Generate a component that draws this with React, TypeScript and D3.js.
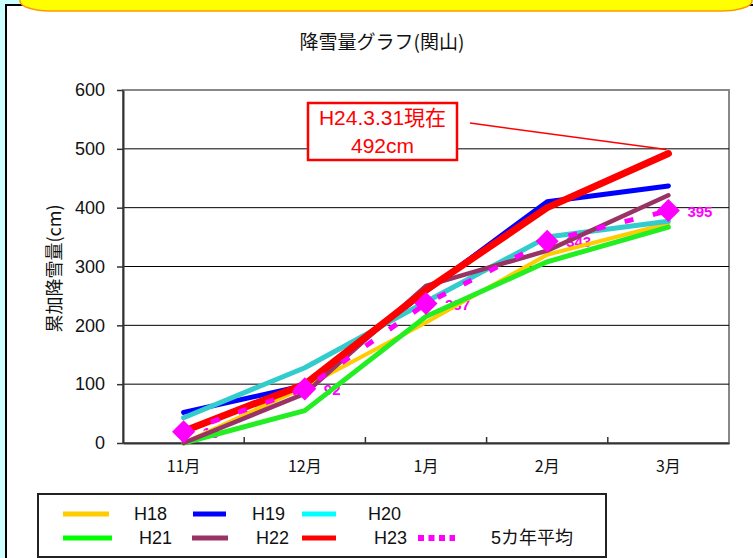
import React, { useEffect, useRef } from 'react'
import * as d3 from 'd3'

// 降雪量グラフ(関山) - cumulative snowfall by month
const months = ['11月', '12月', '1月', '2月', '3月']
const yTicks = [0, 100, 200, 300, 400, 500, 600]

const h18 = [0, 95, 205, 320, 373]
const h19 = [52, 98, 258, 410, 437]
const h20 = [43, 128, 240, 350, 377]
const h21 = [0, 55, 215, 308, 367]
const h22 = [0, 84, 267, 327, 421]
const h23 = [20, 100, 260, 400, 492]
const avg5 = [19, 92, 237, 343, 395]

const seriesNames = ['H18', 'H19', 'H20', 'H21', 'H22', 'H23', '5カ年平均']
const seriesValues = [h18, h19, h20, h21, h22, h23, avg5]

const latest = 492
const noteLines = ['H24.3.31現在', latest + 'cm']

// styles (colour, line width, legend colour)
const styles = [
  { c: '#ffcc00', w: 4, lc: '#ffcc00' },
  { c: '#0000ff', w: 5, lc: '#0000ff' },
  { c: '#33cccc', w: 5, lc: '#00ffff' },
  { c: '#22ee22', w: 5, lc: '#00ff00' },
  { c: '#993366', w: 4.5, lc: '#993366' },
  { c: '#ff0000', w: 7, lc: '#ff0000' },
  { c: '#ff00ff', w: 5, lc: '#ff00ff' }
]

// legend layout: swatch start, swatch end, text x, row center y
const legendPos = [
  [63, 109, 134, 514],
  [193, 226, 252, 514],
  [302, 336, 368, 514],
  [63, 112, 139, 538],
  [192, 228, 256, 538],
  [302, 336, 374, 538],
  [418, 455, 491, 538]
]

const latin = '"Liberation Sans", Arial, "Noto Sans CJK JP", sans-serif'
const jp = '"Noto Sans CJK JP", "Liberation Sans", sans-serif'

export default function App() {
  const ref = useRef<SVGSVGElement>(null)

  useEffect(() => {
    const svg = d3.select(ref.current)
    svg.selectAll('*').remove()

    const plot = { l: 123, r: 729, t: 90, b: 443 }

    const x = d3.scaleBand().domain(months).range([plot.l, plot.r])
    const cx = (m: string) => (x(m) as number) + x.bandwidth() / 2
    const y = d3.scaleLinear().domain([0, 600]).range([plot.b, plot.t])

    // page background + frame + banner
    svg.append('rect').attr('width', 753).attr('height', 558).attr('fill', '#ccffff')
    svg.append('rect')
      .attr('x', 6).attr('y', 5).attr('width', 760).attr('height', 600)
      .attr('fill', '#fff').attr('stroke', '#000').attr('stroke-width', 2)
    svg.append('rect')
      .attr('x', 20).attr('y', -40).attr('width', 732).attr('height', 51)
      .attr('rx', 30).attr('ry', 10)
      .attr('fill', '#ffff00').attr('stroke', '#ff9900').attr('stroke-width', 1.5)

    // title
    svg.append('text')
      .attr('x', 382).attr('y', 49)
      .attr('text-anchor', 'middle')
      .attr('font-family', jp).attr('font-size', 19)
      .attr('fill', '#111')
      .text('降雪量グラフ(関山)')

    // y title
    svg.append('text')
      .attr('transform', 'translate(61,' + ((plot.t + plot.b) / 2 + 2) + ') rotate(-90)')
      .attr('text-anchor', 'middle')
      .attr('font-family', jp).attr('font-size', 18)
      .attr('fill', '#111')
      .text('累加降雪量(cm)')

    // plot area border
    svg.append('rect')
      .attr('x', plot.l).attr('y', plot.t)
      .attr('width', plot.r - plot.l).attr('height', plot.b - plot.t)
      .attr('fill', '#fff').attr('stroke', '#888').attr('stroke-width', 2)

    // gridlines
    svg.append('g')
      .selectAll('line')
      .data(yTicks.filter(d => d > 0 && d < 600))
      .enter()
      .append('line')
      .attr('x1', plot.l).attr('x2', plot.r)
      .attr('y1', d => y(d)).attr('y2', d => y(d))
      .attr('stroke', '#000').attr('stroke-width', 1)

    // y axis
    const gy = svg.append('g')
      .attr('transform', 'translate(' + plot.l + ',0)')
      .call(d3.axisLeft(y).tickValues(yTicks).tickSize(6).tickSizeOuter(0).tickPadding(12))
    gy.select('.domain').attr('stroke', '#333').attr('stroke-width', 2)
    gy.selectAll('.tick line').attr('stroke', '#333').attr('stroke-width', 1.5)
    gy.selectAll('.tick text')
      .attr('font-family', latin).attr('font-size', 18).attr('fill', '#111')

    // x axis
    const gx = svg.append('g')
      .attr('transform', 'translate(0,' + plot.b + ')')
      .call(d3.axisBottom(x).tickSize(0).tickSizeOuter(0).tickPadding(18))
    gx.select('.domain').attr('stroke', '#333').attr('stroke-width', 2)
    gx.selectAll('.tick text')
      .attr('font-family', jp).attr('font-size', 16).attr('fill', '#111')
    gx.selectAll('.edge')
      .data(months.slice(1))
      .enter()
      .append('line')
      .attr('x1', d => x(d) as number).attr('x2', d => x(d) as number)
      .attr('y1', 0).attr('y2', -6)
      .attr('stroke', '#333').attr('stroke-width', 1.5)

    // data labels of the average (under the lines)
    svg.append('g')
      .selectAll('text')
      .data(avg5)
      .enter()
      .append('text')
      .attr('x', (d, i) => cx(months[i]) + 19)
      .attr('y', d => y(d) + 6)
      .attr('font-family', latin).attr('font-size', 15).attr('font-weight', 'bold')
      .attr('fill', '#ff00ff')
      .text(d => d)

    // lines
    const line = d3.line<number>()
      .x((d, i) => cx(months[i]))
      .y(d => y(d))

    seriesValues.forEach((vals, k) => {
      const s = styles[k]
      const p = svg.append('path')
        .datum(vals)
        .attr('d', line)
        .attr('fill', 'none')
        .attr('stroke', s.c)
        .attr('stroke-width', s.w)
        .attr('stroke-linejoin', 'round')
        .attr('stroke-linecap', k === 6 ? 'butt' : 'round')
      if (k === 6) p.attr('stroke-dasharray', '9,20')
    })

    // diamonds on the average
    const diamond = d3.symbol().type(d3.symbolSquare).size(265)
    svg.append('g')
      .selectAll('path')
      .data(avg5)
      .enter()
      .append('path')
      .attr('d', diamond)
      .attr('transform', (d, i) => 'translate(' + cx(months[i]) + ',' + y(d) + ') rotate(45)')
      .attr('fill', '#ff00ff')

    // annotation for current value
    const last = months[months.length - 1]
    svg.append('line')
      .attr('x1', 470).attr('y1', 123)
      .attr('x2', cx(last) - 2).attr('y2', y(latest) - 4)
      .attr('stroke', '#ff0000').attr('stroke-width', 1.5)
    svg.append('rect')
      .attr('x', 308).attr('y', 103).attr('width', 149).attr('height', 57)
      .attr('fill', '#fff').attr('stroke', '#ff0000').attr('stroke-width', 2.5)
    noteLines.forEach((t, i) => {
      svg.append('text')
        .attr('x', 382.5).attr('y', 125 + i * 28)
        .attr('text-anchor', 'middle')
        .attr('font-family', latin).attr('font-size', 21)
        .attr('fill', '#ff0000')
        .text(t)
    })

    // legend
    svg.append('rect')
      .attr('x', 38).attr('y', 494).attr('width', 568).attr('height', 63)
      .attr('fill', '#fff').attr('stroke', '#222').attr('stroke-width', 2)
    const lg = svg.append('g')
    seriesNames.forEach((name, k) => {
      const [x1, x2, tx, ry] = legendPos[k]
      const sw = lg.append('line')
        .attr('x1', x1).attr('x2', x2).attr('y1', ry).attr('y2', ry)
        .attr('stroke', styles[k].lc).attr('stroke-width', 5)
      if (k === 6) sw.attr('stroke-dasharray', '6,4.5').attr('stroke-width', 6)
      lg.append('text')
        .attr('x', tx).attr('y', ry + 6)
        .attr('font-family', latin).attr('font-size', 18)
        .attr('fill', '#111')
        .text(name)
    })
  }, [])

  return (
    <svg
      ref={ref}
      width={753}
      height={558}
      style={{ position: 'absolute', left: 0, top: 0 }}
    />
  )
}
